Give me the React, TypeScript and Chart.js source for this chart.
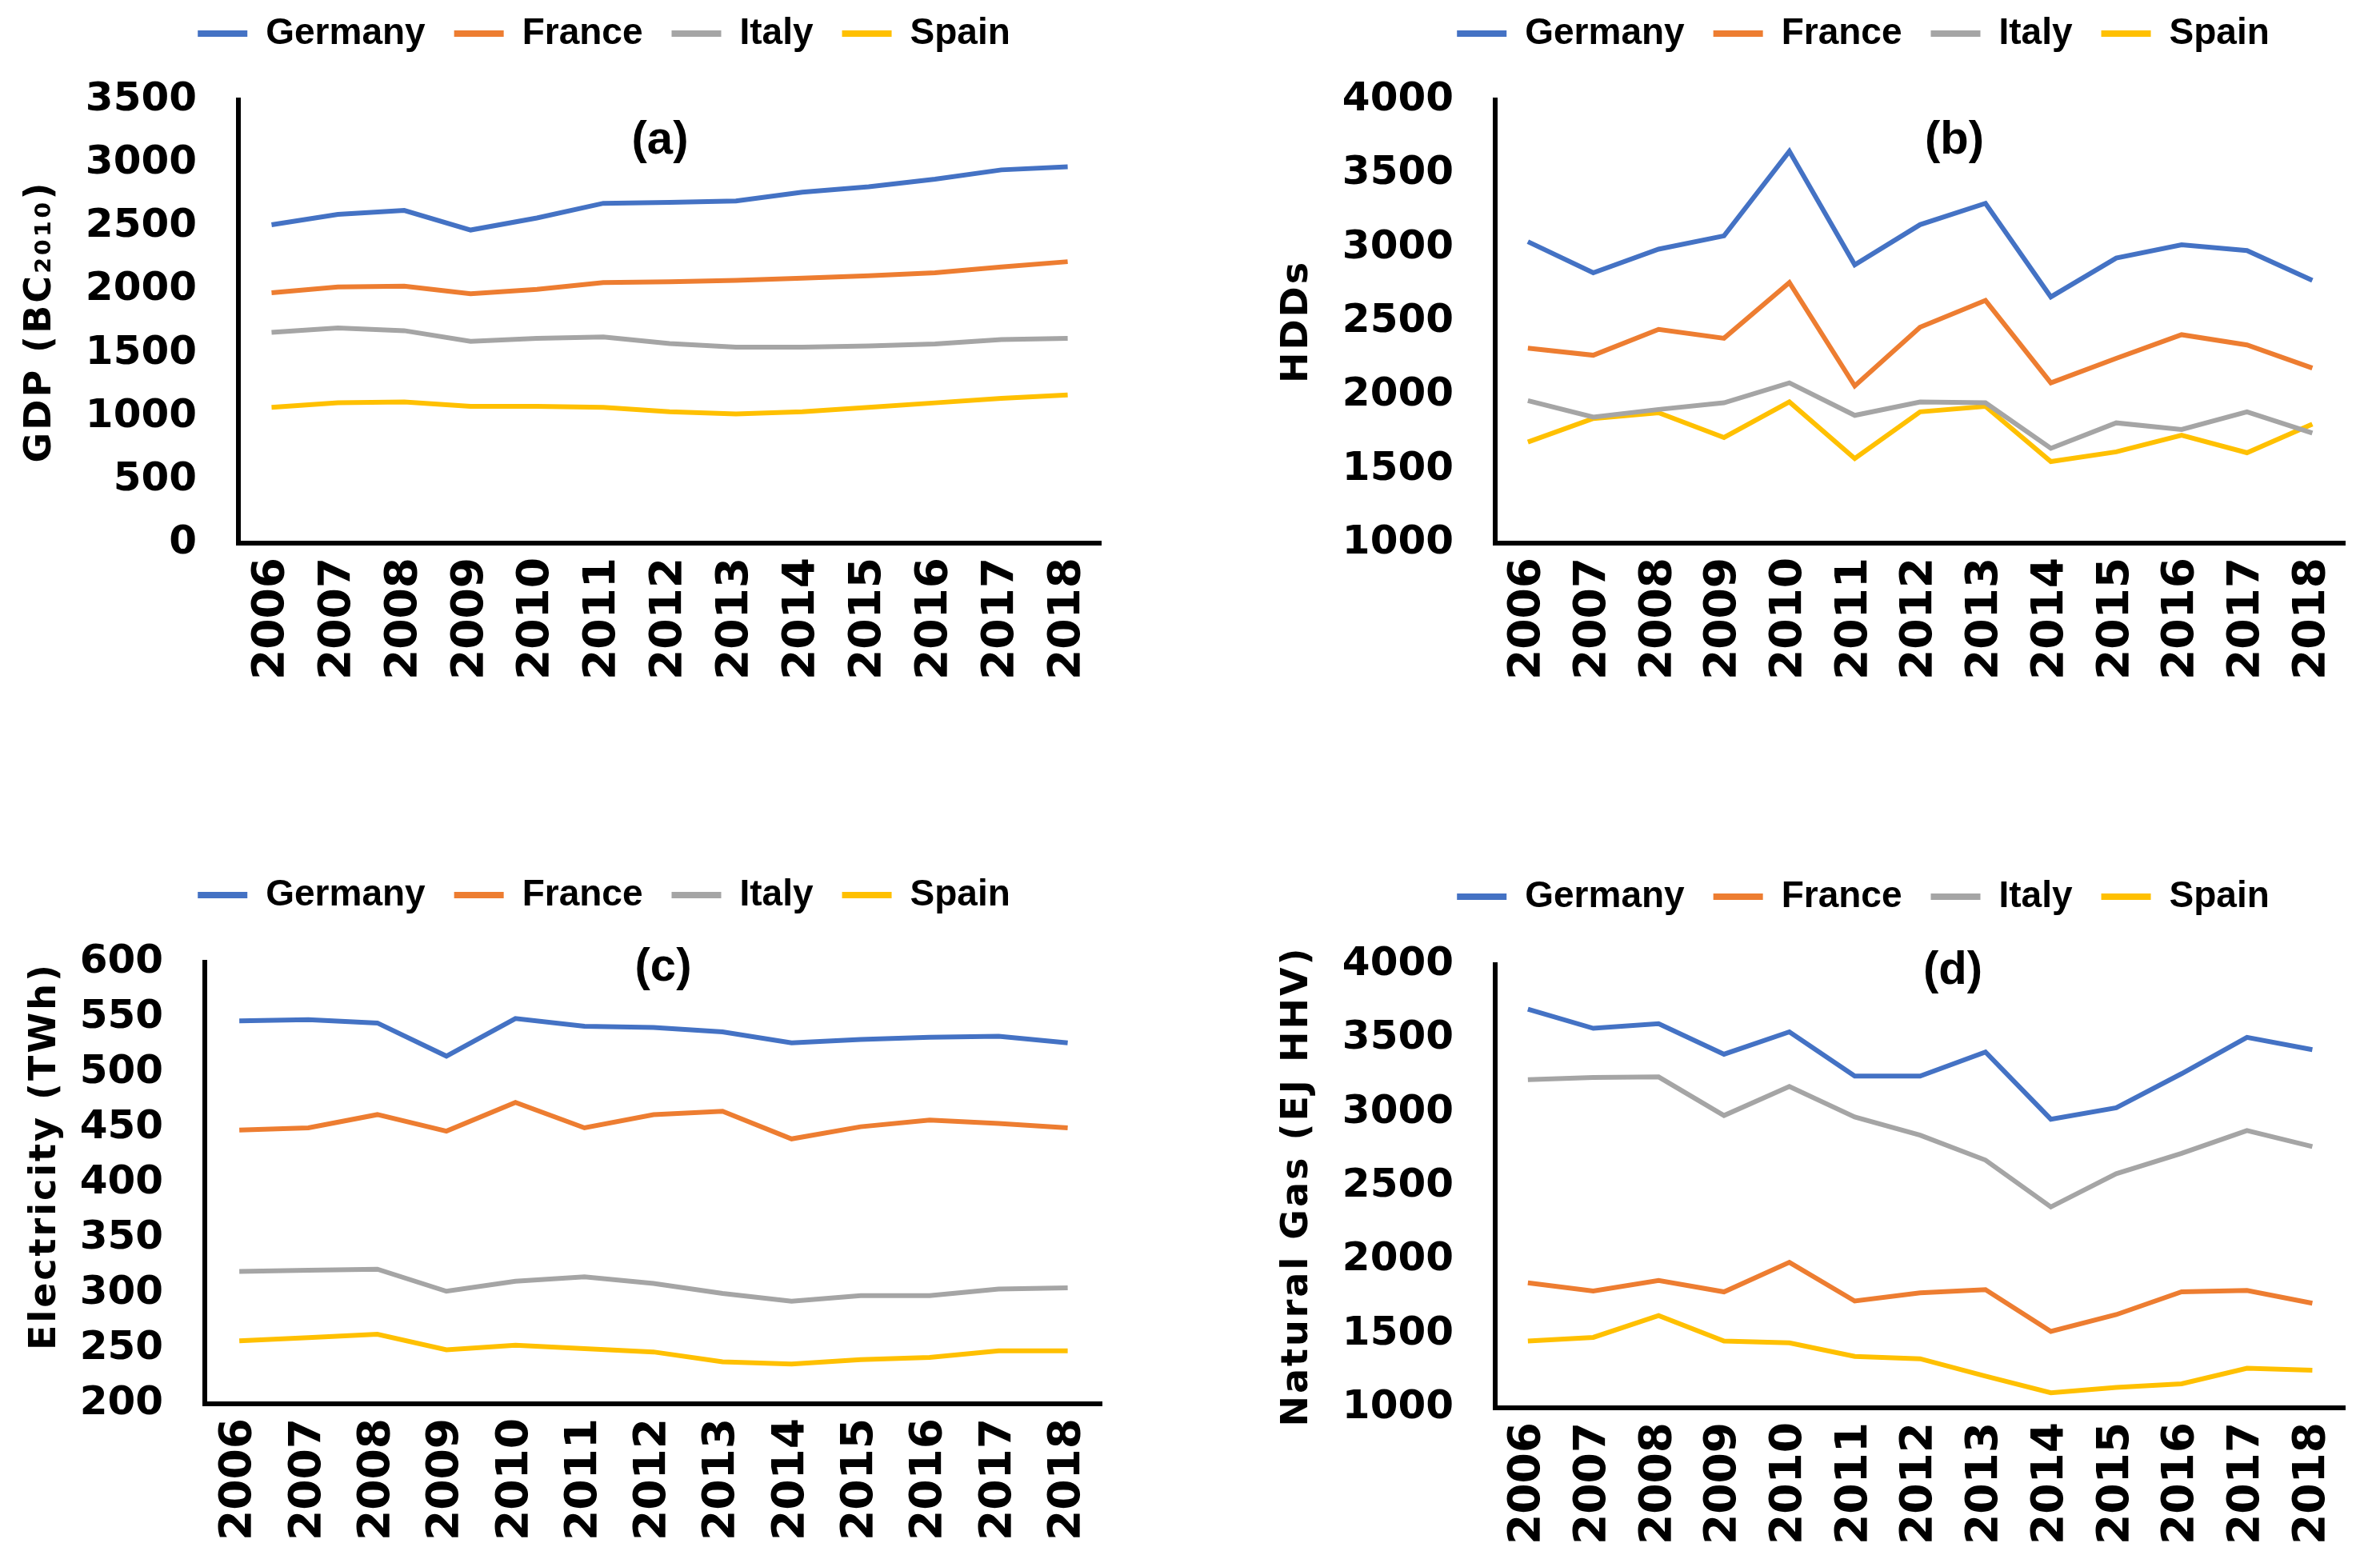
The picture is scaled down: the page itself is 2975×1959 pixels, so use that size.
import React, { useEffect, useRef } from 'react';
import { Chart, registerables } from 'chart.js';

Chart.register(...registerables);

const years = ['2006', '2007', '2008', '2009', '2010', '2011', '2012', '2013', '2014', '2015', '2016', '2017', '2018'];
const countries = ['Germany', 'France', 'Italy', 'Spain'];
const colors = ['#4472C4', '#ED7D31', '#A5A5A5', '#FFC000'];

// (a) GDP
const gdpGermany = [2515, 2596, 2628, 2473, 2568, 2684, 2691, 2702, 2772, 2814, 2874, 2948, 2973];
const gdpFrance = [1977, 2023, 2030, 1970, 2005, 2058, 2065, 2076, 2093, 2111, 2135, 2181, 2223];
const gdpItaly = [1664, 1699, 1678, 1594, 1618, 1629, 1576, 1548, 1548, 1558, 1573, 1608, 1618];
const gdpSpain = [1073, 1108, 1115, 1080, 1080, 1073, 1038, 1020, 1038, 1073, 1108, 1143, 1171];

// (b) HDDs
const hddGermany = [3041, 2830, 2990, 3080, 3653, 2884, 3156, 3300, 2667, 2930, 3020, 2981, 2779];
const hddFrance = [2320, 2272, 2447, 2387, 2764, 2064, 2462, 2643, 2085, 2251, 2411, 2342, 2185];
const hddItaly = [1965, 1853, 1905, 1950, 2085, 1865, 1956, 1950, 1642, 1814, 1769, 1889, 1745];
const hddSpain = [1684, 1844, 1883, 1715, 1956, 1573, 1889, 1926, 1552, 1618, 1730, 1612, 1805];

// (c) Electricity
const elecGermany = [547, 548, 545, 515, 549, 542, 541, 537, 527, 530, 532, 533, 527];
const elecFrance = [448, 450, 462, 447, 473, 450, 462, 465, 440, 451, 457, 454, 450];
const elecItaly = [320, 321, 322, 302, 311, 315, 309, 300, 293, 298, 298, 304, 305];
const elecSpain = [257, 260, 263, 249, 253, 250, 247, 238, 236, 240, 242, 248, 248];

// (d) Natural gas
const gasGermany = [3699, 3569, 3600, 3394, 3545, 3246, 3246, 3409, 2954, 3031, 3262, 3508, 3425];
const gasFrance = [1846, 1791, 1862, 1785, 1985, 1723, 1778, 1800, 1517, 1631, 1785, 1794, 1708];
const gasItaly = [3222, 3237, 3240, 2979, 3175, 2969, 2846, 2677, 2360, 2585, 2723, 2877, 2769];
const gasSpain = [1452, 1477, 1625, 1452, 1440, 1348, 1332, 1215, 1102, 1138, 1163, 1268, 1255];

const yTitles = ['GDP (BC\u2082\u2080\u2081\u2080)', 'HDDs', 'Electricity (TWh)', 'Natural Gas (EJ HHV)'];
const panelLabels = ['(a)', '(b)', '(c)', '(d)'];

type Panel = {
  left: number; top: number; width: number; height: number;
  plotL: number; plotT: number; plotR: number; plotB: number;
  legendCx: number; legendCy: number;
  labelX: number; labelY: number;
  titleX: number; titleAlign: 'center' | 'end';
  yMin: number; yMax: number; yStep: number;
  series: number[][]; yTitle: string; label: string;
};

const panels: Panel[] = [
  {
    left: 0, top: 0, width: 1420, height: 880,
    plotL: 298, plotT: 125, plotR: 1384, plotB: 679,
    legendCx: 755, legendCy: 42, labelX: 825, labelY: 176,
    titleX: 51, titleAlign: 'center',
    yMin: 0, yMax: 3500, yStep: 500,
    series: [gdpGermany, gdpFrance, gdpItaly, gdpSpain], yTitle: yTitles[0], label: panelLabels[0],
  },
  {
    left: 1540, top: 0, width: 1435, height: 880,
    plotL: 329, plotT: 125, plotR: 1420, plotB: 679,
    legendCx: 789, legendCy: 42, labelX: 903, labelY: 176,
    titleX: 82, titleAlign: 'center',
    yMin: 1000, yMax: 4000, yStep: 500,
    series: [hddGermany, hddFrance, hddItaly, hddSpain], yTitle: yTitles[1], label: panelLabels[1],
  },
  {
    left: 0, top: 1060, width: 1420, height: 899,
    plotL: 256, plotT: 143, plotR: 1384, plotB: 695,
    legendCx: 755, legendCy: 59, labelX: 829, labelY: 150,
    titleX: 57, titleAlign: 'end',
    yMin: 200, yMax: 600, yStep: 50,
    series: [elecGermany, elecFrance, elecItaly, elecSpain], yTitle: yTitles[2], label: panelLabels[2],
  },
  {
    left: 1540, top: 1060, width: 1435, height: 899,
    plotL: 329, plotT: 146, plotR: 1420, plotB: 700,
    legendCx: 789, legendCy: 61, labelX: 901, labelY: 154,
    titleX: 82, titleAlign: 'center',
    yMin: 1000, yMax: 4000, yStep: 500,
    series: [gasGermany, gasFrance, gasItaly, gasSpain], yTitle: yTitles[3], label: panelLabels[3],
  },
];

const LEGEND_FONT = 46;
const LEGEND_PAD = 36;
const TITLE_FONT = 46;

function PanelChart({ p }: { p: Panel }) {
  const ref = useRef<HTMLCanvasElement | null>(null);
  useEffect(() => {
    const canvas = ref.current;
    if (!canvas) return;
    const layoutPlugin: any = {
      id: 'panelLayout',
      beforeInit(chart: any) {
        const lg = chart.legend;
        if (lg) {
          const orig = lg.fit;
          lg.fit = function () {
            orig.call(this);
            this.height = p.plotT;
          };
        }
      },
      afterLayout(chart: any) {
        const lg = chart.legend;
        if (!lg) return;
        const w = lg.right - lg.left;
        lg.left = p.legendCx - w / 2;
        lg.right = lg.left + w;
        const h = lg.bottom - lg.top;
        lg.top = p.legendCy - LEGEND_PAD - LEGEND_FONT / 2;
        lg.bottom = lg.top + h;
      },
      afterDatasetsDraw(chart: any) {
        const ctx = chart.ctx;
        ctx.save();
        ctx.font = 'bold 58px "Liberation Sans"';
        ctx.fillStyle = '#000';
        ctx.textAlign = 'center';
        ctx.textBaseline = 'middle';
        ctx.fillText(p.label, p.labelX, p.labelY);
        ctx.restore();
        (ctx as any).letterSpacing = '3px';
      },
      afterDraw(chart: any) {
        (chart.ctx as any).letterSpacing = '0px';
      },
    };

    const chart = new Chart(canvas, {
      type: 'line',
      data: {
        labels: years,
        datasets: countries.map((c, i) => ({
          label: c,
          data: p.series[i],
          borderColor: colors[i],
          backgroundColor: colors[i],
          borderWidth: 6,
          pointRadius: 0,
          pointHoverRadius: 0,
          tension: 0,
          fill: false,
        })),
      },
      options: {
        responsive: false,
        animation: false,
        devicePixelRatio: 1,
        layout: { padding: { left: 0, top: 0, bottom: 0, right: p.width - p.plotR } },
        plugins: {
          tooltip: { enabled: false },
          title: { display: false },
          legend: {
            display: true,
            position: 'top',
            align: 'center',
            labels: {
              color: '#000',
              boxWidth: 62,
              boxHeight: 8,
              padding: LEGEND_PAD,
              font: { family: '"Liberation Sans", Arial, sans-serif', weight: 'bold', size: LEGEND_FONT },
              generateLabels: (ch: any) =>
                Chart.defaults.plugins.legend.labels.generateLabels(ch).map((l: any) => ({ ...l, lineWidth: 0 })),
            },
          },
        },
        scales: {
          x: {
            type: 'category',
            offset: true,
            grid: { display: false, drawTicks: false, offset: true },
            border: { display: true, color: '#000', width: 6 },
            ticks: {
              autoSkip: false,
              minRotation: 90,
              maxRotation: 90,
              padding: 18,
              color: '#000',
              font: { family: '"DejaVu Sans", Verdana, sans-serif', weight: 'bold', size: 55 },
            },
            afterFit: (scale: any) => { scale.height = p.height - p.plotB; },
          },
          y: {
            min: p.yMin,
            max: p.yMax,
            grid: { display: false, drawTicks: false, z: 1 },
            border: { display: true, color: '#000', width: 6, z: 2 },
            ticks: {
              stepSize: p.yStep,
              padding: 52,
              color: '#000',
              font: { family: '"DejaVu Sans", Verdana, sans-serif', weight: 'bold', size: 50 },
              callback: (v: any) => String(v),
            },
            title: {
              display: true,
              text: p.yTitle,
              align: p.titleAlign,
              color: '#000',
              padding: { top: p.titleX - (TITLE_FONT * 1.2) / 2, bottom: 0 },
              font: { family: '"DejaVu Sans", Verdana, sans-serif', weight: 'bold', size: TITLE_FONT, lineHeight: 1.2 },
            },
            afterFit: (scale: any) => { scale.width = p.plotL; },
          },
        },
      },
      plugins: [layoutPlugin],
    });
    return () => chart.destroy();
  }, [p]);

  return (
    <canvas
      ref={ref}
      width={p.width}
      height={p.height}
      style={{ position: 'absolute', left: p.left, top: p.top, width: p.width, height: p.height }}
    />
  );
}

export default function App() {
  return (
    <div style={{ position: 'absolute', left: 0, top: 0, width: 2975, height: 1959, background: '#fff', overflow: 'hidden' }}>
      {panels.map((p, i) => (
        <PanelChart key={i} p={p} />
      ))}
    </div>
  );
}
